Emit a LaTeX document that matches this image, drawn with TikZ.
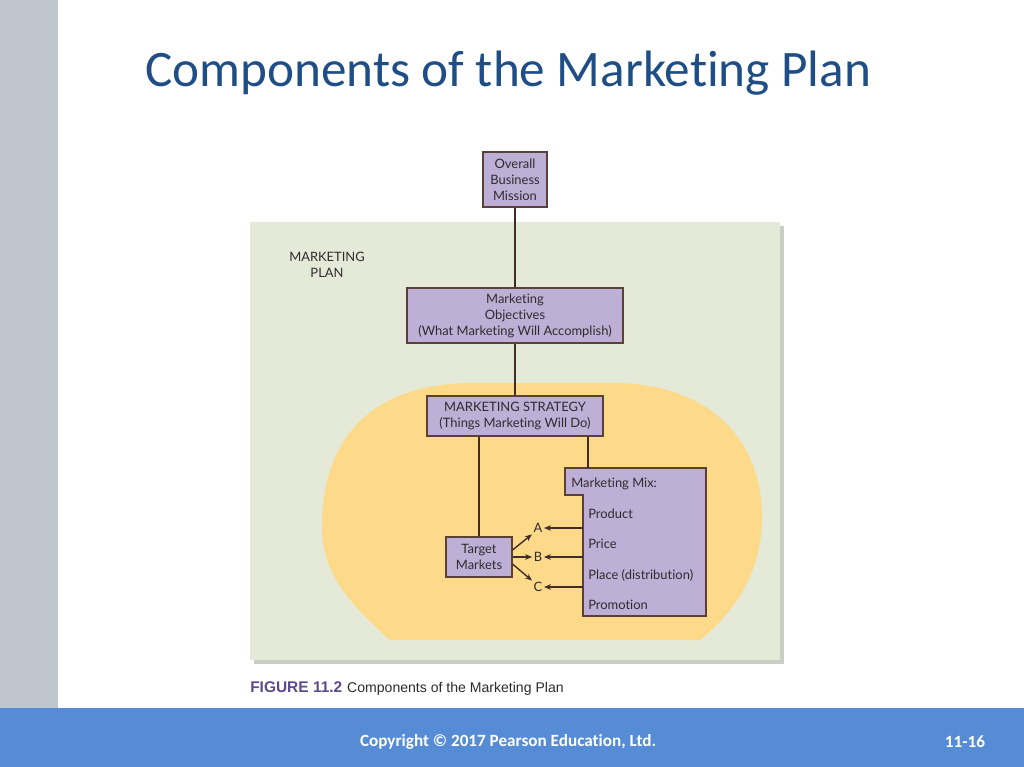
\documentclass[tikz,border=0pt]{standalone}
\usepackage{fontspec}
\setmainfont[Ligatures=NoCommon]{Lato}
\newfontfamily\slidefont[Ligatures=NoCommon]{Carlito}
\newfontfamily\capfont{Liberation Sans}
\usetikzlibrary{arrows.meta}
\definecolor{panelgreen}{HTML}{E4EAD7}
\definecolor{panelshade}{HTML}{C9CDC2}
\definecolor{blobyellow}{HTML}{FDD98A}
\definecolor{boxfill}{HTML}{BEAFD7}
\definecolor{boxline}{HTML}{5B4038}
\definecolor{titleblue}{HTML}{1F4E86}
\definecolor{footblue}{HTML}{558CD5}
\definecolor{sidegrey}{HTML}{C0C6CE}
\definecolor{capviolet}{HTML}{5B4A8C}
\definecolor{txt}{HTML}{302B2B}
\def\u{0.025cm}

\begin{document}
\begin{tikzpicture}[x=\u, y=-\u,
    box/.style={draw=boxline, fill=boxfill, line width=0.8pt, align=center, text=txt,
      inner sep=0pt, font=\fontsize{9.2}{11.4}\selectfont},
    lbl/.style={text=txt, inner sep=0pt, font=\fontsize{9.2}{11.4}\selectfont},
    link/.style={draw=boxline!70!black, line width=1pt},
    arr/.style={link, -{Stealth[length=5pt,width=4pt]}}]
  % slide background
  \fill[white] (0,0) rectangle (1024,767);
  \fill[sidegrey] (0,0) rectangle (58,708);
  \fill[footblue] (0,708) rectangle (1024,767);
  \node[anchor=base west, inner sep=0pt, text=titleblue, font=\slidefont\fontsize{36.4}{40}\selectfont] (title) at (145,87) {Components of the Marketing Plan};
  \node[text=white, font=\slidefont\bfseries\fontsize{12.2}{14}\selectfont] (copyright) at (508,742) {Copyright © 2017 Pearson Education, Ltd.};
  \node[text=white, font=\slidefont\bfseries\fontsize{12.2}{14}\selectfont] (pageno) at (965,742) {11-16};

  % plan panel and strategy area
  \fill[panelshade] (254,226) rectangle (784,664);
  \fill[panelgreen] (250,222) rectangle (780,660);
  \fill[blobyellow] (390,640) .. controls (345,600) and (322,570) .. (322,527)
    .. controls (322,430) and (380,384) .. (470,383) -- (615,383)
    .. controls (710,384) and (762,440) .. (762,517)
    .. controls (762,570) and (737,610) .. (700,640) -- cycle;
  \node[lbl, align=center] (plan) at (327,264.5) {MARKETING\\PLAN};

  % boxes
  \node[box, minimum width=64*\u, minimum height=55*\u] (mission) at (515,179.5) {Overall\\Business\\Mission};
  \node[box, minimum width=216*\u, minimum height=55*\u] (objectives) at (515,315.5) {Marketing\\Objectives\\(What Marketing Will Accomplish)};
  \node[box, minimum width=176*\u, minimum height=40*\u] (strategy) at (515,416) {MARKETING STRATEGY\\(Things Marketing Will Do)};
  \node[box, minimum width=66*\u, minimum height=40*\u] (target) at (479,557) {Target\\Markets};
  \filldraw[draw=boxline, fill=boxfill, line width=0.8pt] (565,468) -- (706,468) -- (706,616)
    -- (583,616) -- (583,495) -- (565,495) -- cycle;
  \coordinate (mixtop) at (588,468);
  \coordinate (mixedge) at (583,468);
  \node[lbl, anchor=west] (mixhead) at (571,484) {Marketing Mix:};
  \node[lbl, anchor=west] (product) at (588,514) {Product};
  \node[lbl, anchor=west] (price) at (588,544) {Price};
  \node[lbl, anchor=west] (place) at (588,575) {Place (distribution)};
  \node[lbl, anchor=west] (promotion) at (588,605) {Promotion};

  \node[lbl, inner sep=1pt] (a) at (538,528) {A};
  \node[lbl, inner sep=1pt] (b) at (538,557) {B};
  \node[lbl, inner sep=1pt] (c) at (538,587) {C};

  % connectors
  \draw[link] (mission) -- (objectives);
  \draw[link] (objectives) -- (strategy);
  \draw[link] (strategy.south -| target.north) -- (target.north);
  \draw[link] (strategy.south -| mixtop) -- (mixtop);
  \draw[arr] ([yshift=5pt]target.east) -- (a.south west);
  \draw[arr] (target.east) -- (b.west);
  \draw[arr] ([yshift=-5pt]target.east) -- (c.north west);
  \draw[arr] (mixedge |- a) -- (a.east);
  \draw[arr] (mixedge |- b) -- (b.east);
  \draw[arr] (mixedge |- c) -- (c.east);

  % caption
  \node[anchor=base west, inner sep=0pt, text=txt, font=\capfont\fontsize{10}{12}\selectfont] (caption) at (250,692)
    {\textcolor{capviolet}{\fontsize{11}{12}\selectfont\bfseries FIGURE 11.2}\hspace{0.35em}Components of the Marketing Plan};
\end{tikzpicture}
\end{document}
